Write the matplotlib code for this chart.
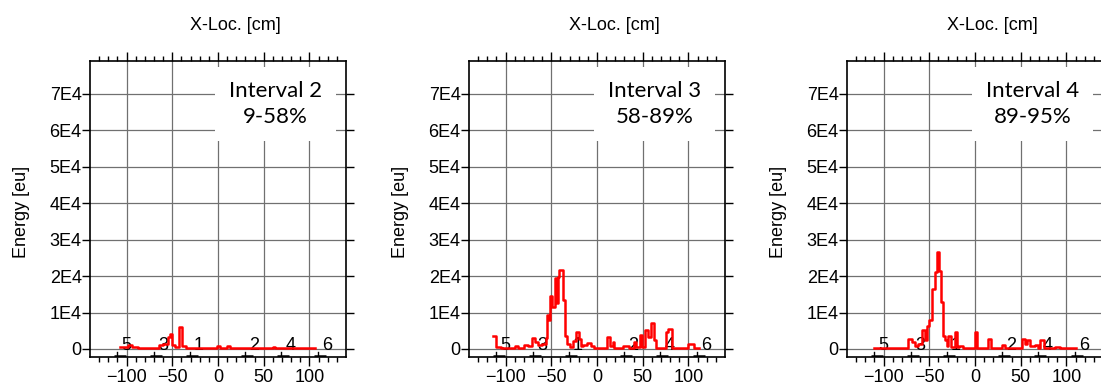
#!/usr/bin/env python3
# -*- coding: utf-8 -*-

'''energyProfilePlot.py

Energy profile along the x axis for three load intervals.
'''

import numpy as np
import matplotlib
matplotlib.use('Agg')
import matplotlib.pyplot as plt


# Interval 2 (9-58%): bin edges [cm] and energy per bin [eu]
edges_int2 = [-107, -98, -94, -88, -65, -60, -55, -52, -50, -47, -42.5, -39,
              -35, -1, 2, 10, 13, 30, 60, 62, 106]
energy_int2 = [500, 1000, 600, 200, 1200, 1500, 3200, 4000, 1200, 600, 6000,
               800, 300, 800, 300, 700, 300, 200, 500, 200]

# Interval 3 (58-89%)
edges_int3 = [-113.5, -110, -105, -90, -86, -80, -75, -71, -68, -64, -60, -56,
              -55, -53, -51.5, -49, -46, -44, -43, -41.6, -37.5, -35, -33,
              -30, -26, -23, -20, -18, -15, -11, -7, -3, 8, 10.6, 14, 17, 19,
              28, 35, 40, 43, 47, 49, 52, 56, 59, 62, 64, 75, 78, 82, 100,
              106, 112]
energy_int3 = [3500, 500, 300, 800, 300, 1200, 800, 3000, 2000, 1000, 1500,
               3000, 9300, 8000, 14500, 11500, 19500, 12500, 19800, 21800,
               13500, 3500, 1500, 600, 2200, 4700, 2800, 800, 1200, 1600, 700,
               200, 300, 3300, 800, 1800, 300, 900, 400, 2000, 500, 3800, 500,
               5200, 3300, 7000, 2500, 300, 4700, 5400, 300, 1500, 300]

# Interval 4 (89-95%)
edges_int4 = [-111, -73, -69, -66, -62, -58, -55, -52, -50, -47, -44, -42,
              -39, -37, -35, -33, -31, -29, -26, -22, -19.5, -17, -13, 0, 2.5,
              14.5, 18, 29, 33, 51, 54.5, 57, 60, 65.5, 69, 71, 75, 87, 93,
              111]
energy_int4 = [200, 2700, 2000, 800, 1500, 5200, 2500, 6300, 8000, 16500,
               21000, 26500, 21500, 13000, 3500, 2500, 800, 3500, 500, 4700,
               500, 800, 200, 4700, 200, 2700, 200, 1000, 400, 2700, 1500,
               2400, 800, 1000, 300, 2500, 300, 500, 200]

interval_names = ['Interval 2', 'Interval 3', 'Interval 4']
interval_ranges = ['9-58%', '58-89%', '89-95%']

# sensor positions [cm] and their ids
sensor_pos = [-110, -70, -31, 29, 69, 109]
sensor_ids = ['5', '3', '1', '2', '4', '6']

y_ticks = [0, 10000, 20000, 30000, 40000, 50000, 60000, 70000]
y_ticklabels = ['0', '1E4', '2E4', '3E4', '4E4', '5E4', '6E4', '7E4']
x_ticks = [-100, -50, 0, 50, 100]

FONTSIZE = 13


def drawPanel(ax, edges, energy, name, percent):
    ax.set_xlim(-140, 140)
    ax.set_ylim(-2200, 79000)

    ## grid and ticks
    ax.set_axisbelow(True)
    ax.grid(True, color='#707070', linewidth=0.9)
    ax.set_xticks(x_ticks)
    ax.set_xticks(np.arange(-130, 131, 10), minor=True)
    ax.set_yticks(y_ticks)
    ax.set_yticklabels(y_ticklabels)
    ax.tick_params(axis='x', which='major', direction='out', length=6.5,
                   width=1, top=True, bottom=True, labelsize=FONTSIZE,
                   pad=2)
    ax.tick_params(axis='x', which='minor', direction='out', length=3.5,
                   width=1, top=True, bottom=True)
    ax.tick_params(axis='y', which='major', direction='out', length=5.5,
                   width=1, left=True, right=True, labelsize=FONTSIZE,
                   pad=0.5)
    for spine in ax.spines.values():
        spine.set_linewidth(1.2)

    ## labels
    ax.set_ylabel('Energy [eu]', fontsize=FONTSIZE)
    ax.yaxis.set_label_coords(-0.235, 0.49)
    ax.text(0.567, 1.12, 'X-Loc. [cm]', transform=ax.transAxes,
            fontsize=FONTSIZE, ha='center', va='center')

    ## sensors along the bottom
    for pos, sid in zip(sensor_pos, sensor_ids):
        ax.plot([pos - 4, pos + 9], [-1950, -1950], color='black',
                linewidth=1.8, solid_capstyle='butt', zorder=1.5)
        ax.plot([pos, pos], [-1950, -800], color='black', linewidth=1,
                zorder=1.5)
        ax.text(pos + 10, 900, sid, fontsize=FONTSIZE, ha='center',
                va='center', zorder=1.5)

    ## energy trace
    xs = list(edges)
    ys = list(energy) + [energy[-1]]
    ax.step(xs, ys, where='post', color='#ff0000', linewidth=1.8,
            zorder=2.5)

    ## interval box
    ax.text(63, 67200, name + '\n' + percent, family='Lato', fontsize=16,
            ha='center', va='center', linespacing=1.4, zorder=3,
            bbox=dict(boxstyle='square,pad=0.62', facecolor='white',
                      edgecolor='none'))


if __name__ == "__main__":

    plt.rcParams['font.family'] = ['Liberation Sans', 'DejaVu Sans']

    fig = plt.figure(figsize=(11.01, 3.85), dpi=100)

    panels = [(edges_int2, energy_int2),
              (edges_int3, energy_int3),
              (edges_int4, energy_int4)]
    lefts = [90, 469, 847]
    for index, (edges, energy) in enumerate(panels):
        ax = fig.add_axes([lefts[index] / 1101, 28 / 385,
                           256 / 1101, 296 / 385])
        drawPanel(ax, edges, energy, interval_names[index],
                  interval_ranges[index])

    fig.savefig('out.png', dpi=100)
